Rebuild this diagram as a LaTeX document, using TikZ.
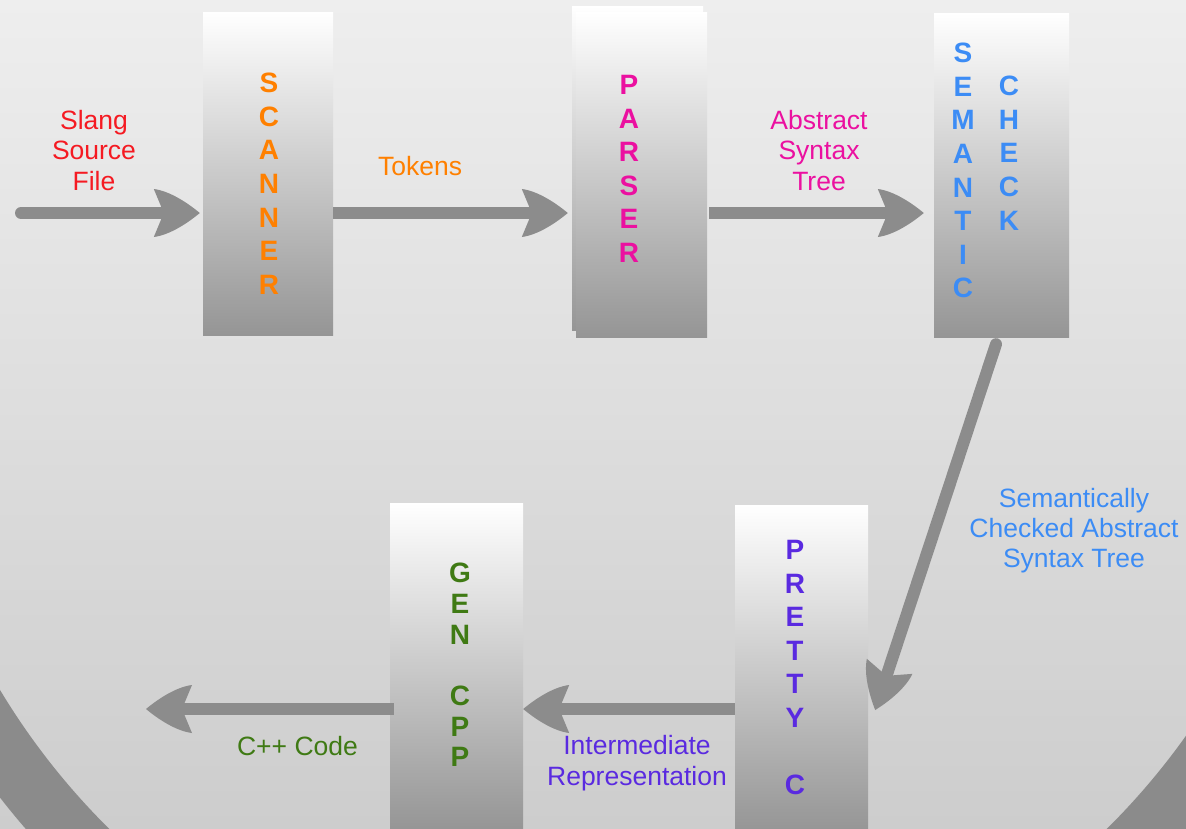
\documentclass[tikz,border=0pt]{standalone}
\usepackage{fontspec}
\setmainfont{Liberation Sans}
\usetikzlibrary{arrows.meta,calc}
\definecolor{bgtop}{HTML}{EEEEEE}
\definecolor{bgbot}{HTML}{CDCDCD}
\definecolor{ringgray}{HTML}{8B8B8B}
\definecolor{arrowgray}{HTML}{8C8C8C}
\definecolor{boxbot}{HTML}{959595}
\definecolor{boxmid}{HTML}{C6C6C6}
\definecolor{cred}{HTML}{F51A22}
\definecolor{corange}{HTML}{FF8000}
\definecolor{cmagenta}{HTML}{EB10A0}
\definecolor{cblue}{HTML}{3C8CF5}
\definecolor{cpurple}{HTML}{5A2AE0}
\definecolor{cgreen}{HTML}{3F7A14}

\pgfdeclarearrow{
  name = FlowHead,
  setup code = {
    \pgfarrowssettipend{0pt}
    \pgfarrowssetbackend{-46pt}
    \pgfarrowssetvisualbackend{-36pt}
    \pgfarrowssetlineend{-30pt}
    \pgfarrowshullpoint{0pt}{0pt}
    \pgfarrowshullpoint{-46pt}{24pt}
    \pgfarrowshullpoint{-46pt}{-24pt}
  },
  drawing code = {
    \pgfpathmoveto{\pgfqpoint{0pt}{0pt}}
    \pgfpathcurveto{\pgfqpoint{-12pt}{10pt}}{\pgfqpoint{-30pt}{22pt}}{\pgfqpoint{-46pt}{24pt}}
    \pgfpathlineto{\pgfqpoint{-36pt}{0pt}}
    \pgfpathlineto{\pgfqpoint{-46pt}{-24pt}}
    \pgfpathcurveto{\pgfqpoint{-30pt}{-22pt}}{\pgfqpoint{-12pt}{-10pt}}{\pgfqpoint{0pt}{0pt}}
    \pgfpathclose
    \pgfusepathqfill
  }
}

\begin{document}
\begin{tikzpicture}[x=1pt,y=-1pt,
  box/.style={shade, top color=white, middle color=boxmid, bottom color=boxbot,
    draw=none, inner sep=0pt, minimum width=#1},
  lbl/.style={font=\fontsize{26.5}{30.3}\selectfont, align=center, inner sep=0pt},
  col/.style={font=\fontsize{28}{33.6}\selectfont\bfseries, align=center, inner sep=0pt, anchor=north},
  colg/.style={font=\fontsize{28}{30.7}\selectfont\bfseries, align=center, inner sep=0pt, anchor=north},
  flow/.style={draw=arrowgray, line width=12pt, -FlowHead}
]
\useasboundingbox (0,0) rectangle (1186,828);
\clip (0,0) rectangle (1186,828);
% background
\shade[top color=bgtop, bottom color=bgbot] (0,0) rectangle (1186,828);
\fill[ringgray, even odd rule] (608,325) circle[radius=770pt] (608,325) circle[radius=709pt];

% boxes
\node[box=130, minimum height=323] (scanner) at (268,173.5) {};
\node[box=131, minimum height=324] (parserback) at (637.5,168) {};
\node[box=131, minimum height=325] (parser) at (641.5,174.5) {};
\node[box=135, minimum height=324] (semantic) at (1001.5,175) {};
\node[box=133, minimum height=327] (gencpp) at (456.5,666.5) {};
\node[box=133, minimum height=327] (pretty) at (801.5,668.5) {};

% row coordinates
\coordinate (row1) at (0,213);
\coordinate (row2) at (0,709);
\coordinate (srcin) at (21,213);
\coordinate (cppout) at (146,709);

% connectors
\draw[flow, line cap=round] (srcin) -- (scanner.west |- row1) [shorten >=3pt];
\draw[flow] (scanner.east |- row1) -- (parserback.west |- row1) [shorten >=4pt];
\draw[flow] ([xshift=2pt]parser.east |- row1) -- (semantic.west |- row1) [shorten >=10pt];
\draw[flow, line cap=round] ($(semantic.south)+(-5.5,7)$) -- ($(pretty.east)+(7,41.5)$);
\draw[flow] (pretty.west |- row2) -- (gencpp.east |- row2);
\draw[flow] ([xshift=4pt]gencpp.west |- row2) -- (cppout);

% box letters
\node[col, text=corange] (scannertxt) at (269,73) {S\\C\\A\\N\\N\\E\\R};
\node[col, text=cmagenta] (parsertxt) at (629,75) {P\\A\\R\\S\\E\\R};
\node[col, text=cblue] (semtxt) at (963,43) {S\\E\\M\\A\\N\\T\\I\\C};
\node[col, text=cblue] (chktxt) at (1009,76) {C\\H\\E\\C\\K};
\node[colg, text=cgreen] (gentxt) at (460,563) {G\\E\\N\\\mbox{}\\C\\P\\P};
\node[col, text=cpurple] (prettytxt) at (795,540) {P\\R\\E\\T\\T\\Y\\\mbox{}\\C};

% labels
\node[lbl, text=cred] (lslang) at (94,150.4) {Slang\\Source\\File};
\node[lbl, text=corange, anchor=base] (ltokens) at (420,175) {Tokens};
\node[lbl, text=cmagenta] (last) at (819,150.4) {Abstract\\Syntax\\Tree};
\node[lbl, text=cblue] (lsast) at (1074,530.6) {Semantically\\Checked Abstract\\Syntax Tree};
\node[lbl, text=cpurple] (lir) at (637,763.2) {Intermediate\\Representation};
\node[lbl, text=cgreen, anchor=base] (lcpp) at (297.5,755) {C++ Code};
\end{tikzpicture}
\end{document}
